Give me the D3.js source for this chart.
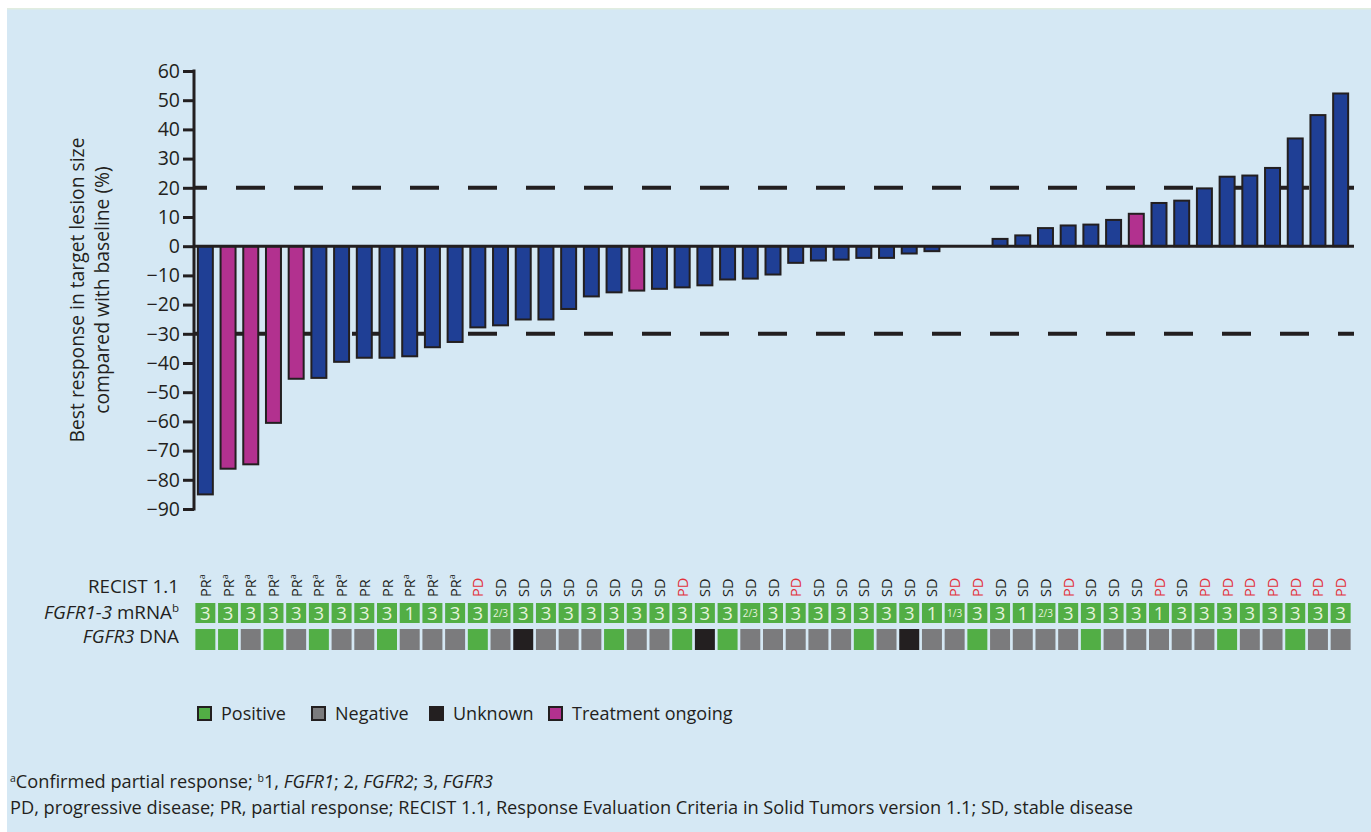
<!DOCTYPE html>
<html>
<head>
<meta charset="utf-8">
<script src="https://cdn.jsdelivr.net/npm/d3@7"></script>
<style>
  html, body { margin: 0; padding: 0; background: #ffffff; }
  svg { display: block; font-family: "Open Sans", Roboto, sans-serif; }
</style>
</head>
<body>
<svg id="chart" width="1371" height="832"></svg>
<script>
// Best percentage change in target lesion size, one bar per patient (sorted)
const responses = [-85.0, -76.2, -74.7, -60.5, -45.4, -45.1, -39.6, -38.2, -38.2, -37.7,
  -34.6, -32.8, -27.8, -27.1, -25.1, -25.1, -21.5, -17.2, -15.8, -15.2,
  -14.6, -14.1, -13.4, -11.4, -11.1, -9.7, -5.7, -4.9, -4.6, -4.0,
  -4.0, -2.5, -1.7, 0, 0, 2.5, 3.7, 6.2, 7.1, 7.4,
  9.0, 11.1, 14.8, 15.6, 19.8, 23.8, 24.2, 26.8, 36.9, 44.9, 52.3];

// Patients still on treatment (1-based positions)
const ongoing = [2, 3, 4, 5, 20, 42];

// RECIST 1.1 best overall response
const recist = ["PR","PR","PR","PR","PR","PR","PR","PR","PR","PR",
  "PR","PR","PD","SD","SD","SD","SD","SD","SD","SD",
  "SD","PD","SD","SD","SD","SD","PD","SD","SD","SD",
  "SD","SD","SD","PD","PD","SD","SD","SD","PD","SD",
  "SD","SD","PD","SD","PD","PD","PD","PD","PD","PD","PD"];

// Confirmed partial responses (1-based positions)
const confirmedPR = [1, 2, 3, 4, 5, 6, 7, 10, 11, 12];

// FGFR1-3 mRNA-positive receptor(s)
const mrna = ["3","3","3","3","3","3","3","3","3","1",
  "3","3","3","2/3","3","3","3","3","3","3",
  "3","3","3","3","2/3","3","3","3","3","3",
  "3","3","1","1/3","3","3","1","2/3","3","3",
  "3","3","1","3","3","3","3","3","3","3","3"];

// FGFR3 DNA status: P positive, N negative, U unknown
const dna = ["P","P","N","P","N","P","N","N","P","N",
  "N","N","P","N","U","N","N","N","P","N",
  "N","P","U","P","N","N","N","N","N","P",
  "N","U","N","N","P","N","N","N","N","P",
  "N","N","N","N","N","P","N","N","P","N","N"];

const yTicks = [60, 50, 40, 30, 20, 10, 0, -10, -20, -30, -40, -50, -60, -70, -80, -90];
const thresholds = [20, -30];

const legendItems = [
  { key: "P", label: "Positive" },
  { key: "N", label: "Negative" },
  { key: "U", label: "Unknown" },
  { key: "T", label: "Treatment ongoing" }
];

const colors = {
  bg: "#d5e8f4",
  bar: "#1f3f95",
  ongoing: "#b2318f",
  P: "#52ae45",
  N: "#7b7b7d",
  U: "#231f20",
  T: "#b2318f",
  ink: "#231f20",
  pd: "#e2313b",
  cellText: "#e4f3dc"
};

const svg = d3.select("#chart");
const W = 1371, H = 832;

// panel background
svg.append("rect").attr("x", 7).attr("y", 8).attr("width", W - 7).attr("height", H - 8)
  .attr("fill", colors.bg);
svg.append("rect").attr("x", 7).attr("y", 8).attr("width", W - 7).attr("height", 1.5)
  .attr("fill", "#e1ede0");

const ids = responses.map((d, i) => i + 1);

const x = d3.scaleBand().domain(ids).range([194, 1352]).paddingInner(0.34).paddingOuter(0.17);
const xCell = d3.scaleBand().domain(ids).range([194, 1352]).paddingInner(0.12).paddingOuter(0.06);
const y = d3.scaleLinear().domain([-90, 60]).range([509, 71]);

const axisX = 194;

// threshold lines (behind bars)
svg.append("g").selectAll("line").data(thresholds).join("line")
  .attr("x1", axisX).attr("x2", 1354)
  .attr("y1", d => y(d)).attr("y2", d => y(d))
  .attr("stroke", colors.ink).attr("stroke-width", 4)
  .attr("stroke-dasharray", "29,29").attr("stroke-dashoffset", 16);

// bars
svg.append("g").selectAll("rect").data(ids).join("rect")
  .attr("x", d => x(d))
  .attr("width", x.bandwidth())
  .attr("y", d => Math.min(y(0), y(responses[d - 1])))
  .attr("height", d => Math.abs(y(responses[d - 1]) - y(0)))
  .attr("fill", d => ongoing.includes(d) ? colors.ongoing : colors.bar)
  .attr("stroke", colors.ink).attr("stroke-width", 2);

// y axis
const yAxis = d3.axisLeft(y).tickValues(yTicks).tickSize(11).tickPadding(3)
  .tickFormat(d => d < 0 ? "\u2212" + Math.abs(d) : String(d));
const gy = svg.append("g").attr("transform", `translate(${axisX},0)`).call(yAxis);
gy.select(".domain").remove();
gy.selectAll(".tick line").attr("stroke", colors.ink).attr("stroke-width", 3);
gy.selectAll(".tick text").attr("fill", colors.ink).attr("font-size", 19.5)
  .attr("font-family", "'Open Sans', sans-serif");
svg.append("line").attr("x1", axisX).attr("x2", axisX)
  .attr("y1", y(60) - 1.5).attr("y2", y(-90) + 1.5)
  .attr("stroke", colors.ink).attr("stroke-width", 3);

// zero line
svg.append("line").attr("x1", axisX).attr("x2", 1354)
  .attr("y1", y(0)).attr("y2", y(0))
  .attr("stroke", colors.ink).attr("stroke-width", 3);

// y axis title
const yt = svg.append("text").attr("transform", "translate(90,290) rotate(-90)")
  .attr("text-anchor", "middle").attr("fill", colors.ink).attr("font-size", 19.3);
yt.append("tspan").attr("x", 0).attr("y", -6).text("Best response in target lesion size");
yt.append("tspan").attr("x", 0).attr("y", 19).text("compared with baseline (%)");

// row labels
const rowLab = svg.append("g").attr("fill", colors.ink).attr("font-size", 18.8).attr("text-anchor", "end");
rowLab.append("text").attr("x", 179).attr("y", 593).text("RECIST 1.1");
const m = rowLab.append("text").attr("x", 179).attr("y", 619);
m.append("tspan").attr("font-style", "italic").text("FGFR1-3");
m.append("tspan").text(" mRNA");
m.append("tspan").attr("font-size", 11.5).attr("dy", -7).text("b");
const dn = rowLab.append("text").attr("x", 179).attr("y", 643);
dn.append("tspan").attr("font-style", "italic").text("FGFR3");
dn.append("tspan").text(" DNA");

// RECIST response labels (rotated)
const rl = svg.append("g").selectAll("text").data(ids).join("text")
  .attr("transform", d => `translate(${x(d) + x.bandwidth() / 2 + 5.5},597) rotate(-90)`)
  .attr("font-size", 14.5)
  .attr("fill", d => recist[d - 1] === "PD" ? colors.pd : colors.ink);
rl.append("tspan").text(d => recist[d - 1]);
rl.filter(d => confirmedPR.includes(d)).append("tspan")
  .attr("font-size", 9).attr("dy", -6).text("a");

// mRNA row
const mrnaRow = svg.append("g");
mrnaRow.selectAll("rect").data(ids).join("rect")
  .attr("x", d => xCell(d)).attr("width", xCell.bandwidth())
  .attr("y", 603).attr("height", 20).attr("fill", colors.P);
mrnaRow.selectAll("text").data(ids).join("text")
  .attr("x", d => xCell(d) + xCell.bandwidth() / 2)
  .attr("y", d => mrna[d - 1].length > 1 ? 617 : 619.5)
  .attr("text-anchor", "middle").attr("fill", colors.cellText)
  .attr("font-size", d => mrna[d - 1].length > 1 ? 10 : 18.5)
  .text(d => mrna[d - 1]);

// DNA row
svg.append("g").selectAll("rect").data(ids).join("rect")
  .attr("x", d => xCell(d)).attr("width", xCell.bandwidth())
  .attr("y", 629).attr("height", 21)
  .attr("fill", d => colors[dna[d - 1]]);

// legend
const legendX = [197, 311, 429, 548];
const lg = svg.append("g").selectAll("g").data(legendItems).join("g")
  .attr("transform", (d, i) => `translate(${legendX[i]},706)`);
lg.append("rect").attr("x", 1).attr("y", 1).attr("width", 13).attr("height", 13)
  .attr("fill", d => colors[d.key]).attr("stroke", colors.ink).attr("stroke-width", 2);
lg.append("text").attr("x", 24).attr("y", 14).attr("font-size", 18)
  .attr("fill", colors.ink).text(d => d.label);

// footnotes
const fn = svg.append("g").attr("fill", colors.ink).attr("font-size", 18.2);
const f1 = fn.append("text").attr("x", 10).attr("y", 788);
f1.append("tspan").attr("font-size", 10.5).attr("dy", -6).text("a");
f1.append("tspan").attr("dy", 6).text("Confirmed partial response; ");
f1.append("tspan").attr("font-size", 10.5).attr("dy", -6).text("b");
f1.append("tspan").attr("dy", 6).text("1, ");
f1.append("tspan").attr("font-style", "italic").text("FGFR1");
f1.append("tspan").text("; 2, ");
f1.append("tspan").attr("font-style", "italic").text("FGFR2");
f1.append("tspan").text("; 3, ");
f1.append("tspan").attr("font-style", "italic").text("FGFR3");
fn.append("text").attr("x", 10).attr("y", 814)
  .text("PD, progressive disease; PR, partial response; RECIST 1.1, Response Evaluation Criteria in Solid Tumors version 1.1; SD, stable disease");
</script>
</body>
</html>
